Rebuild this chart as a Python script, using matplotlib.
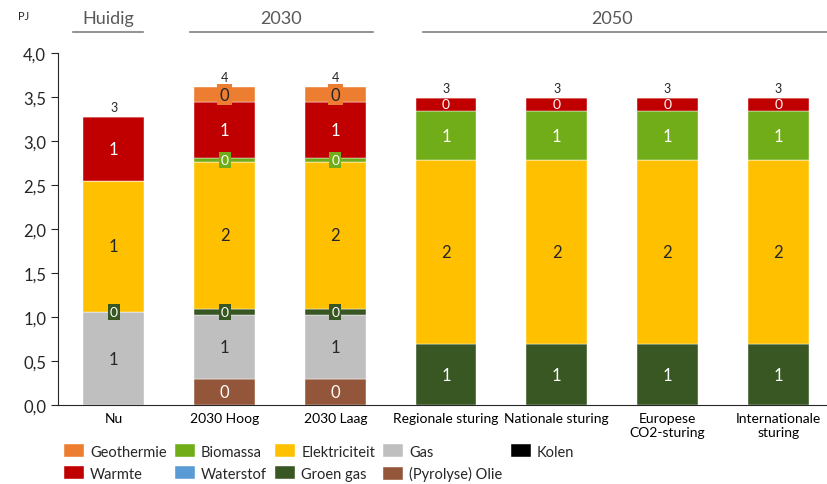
import matplotlib
matplotlib.use('Agg')
import matplotlib.pyplot as plt
import matplotlib.transforms as mtransforms
import numpy as np

plt.rcParams['font.family'] = ['Lato', 'DejaVu Sans']

# categories (bars)
categories = ['Nu', '2030 Hoog', '2030 Laag', 'Regionale sturing', 'Nationale sturing',
              'Europese\nCO2-sturing', 'Internationale\nsturing']

# series values in PJ, stacked from bottom to top
kolen         = [0.0,   0.0,   0.0,   0.0,  0.0,  0.0,  0.0]
olie          = [0.0,   0.295, 0.295, 0.0,  0.0,  0.0,  0.0]
gas           = [1.052, 0.725, 0.725, 0.0,  0.0,  0.0,  0.0]
groen_gas     = [0.005, 0.07,  0.07,  0.69, 0.69, 0.69, 0.69]
elektriciteit = [1.49,  1.675, 1.675, 2.09, 2.09, 2.09, 2.09]
waterstof     = [0.0,   0.0,   0.0,   0.0,  0.0,  0.0,  0.0]
biomassa      = [0.0,   0.042, 0.042, 0.56, 0.56, 0.56, 0.56]
warmte        = [0.72,  0.633, 0.633, 0.15, 0.15, 0.15, 0.15]
geothermie    = [0.0,   0.17,  0.17,  0.0,  0.0,  0.0,  0.0]

series = [
    ('Kolen', kolen, '#000000', 'white'),
    ('(Pyrolyse) Olie', olie, '#93563A', 'white'),
    ('Gas', gas, '#BFBFBF', '#262626'),
    ('Groen gas', groen_gas, '#385723', 'white'),
    ('Elektriciteit', elektriciteit, '#FFC000', '#262626'),
    ('Waterstof', waterstof, '#5B9BD5', 'white'),
    ('Biomassa', biomassa, '#70AD18', 'white'),
    ('Warmte', warmte, '#C00000', 'white'),
    ('Geothermie', geothermie, '#ED7D31', '#262626'),
]

legend_order = ['Geothermie', 'Warmte', 'Biomassa', 'Waterstof', 'Elektriciteit',
                'Groen gas', 'Gas', '(Pyrolyse) Olie', 'Kolen']

groups = [('Huidig', -0.37, 0.26, -0.05), ('2030', 0.685, 2.34, 1.51), ('2050', 2.79, 6.5, 4.5)]

fig = plt.figure(figsize=(8.28, 4.85), dpi=100)
ax = fig.add_axes([0.070, 0.163, 0.93, 0.726])

x = np.arange(len(categories))
bottom = np.zeros(len(categories))
handles = {}
for name, vals, color, tcolor in series:
    vals = np.array(vals)
    bars = ax.bar(x, vals, 0.55, bottom=bottom, color=color, label=name,
                  edgecolor='white', linewidth=0.3)
    handles[name] = bars
    for i, v in enumerate(vals):
        if v <= 0:
            continue
        yc = bottom[i] + v / 2
        txt = '%d' % int(v + 0.5)
        if v < 0.12 or name == 'Geothermie':
            fs = 10 if name != 'Geothermie' else 12
            ax.text(x[i], yc, txt, ha='center', va='center', color=tcolor, fontsize=fs,
                    bbox=dict(boxstyle='square,pad=0.15', fc=color, ec='none'))
        else:
            fs = 12 if v > 0.25 else 10
            ax.text(x[i], yc, txt, ha='center', va='center', color=tcolor, fontsize=fs)
    bottom += vals

# totals on top
for i, tot in enumerate(bottom):
    ax.annotate('%d' % int(tot + 0.5), (x[i], tot), xytext=(0, 3), textcoords='offset points',
                ha='center', va='bottom', fontsize=9, color='#262626')

ax.set_ylim(0, 4.0)
ax.set_xlim(-0.505, 6.45)
ax.set_yticks(np.arange(0, 4.01, 0.5))
ax.set_yticklabels([('%.1f' % t).replace('.', ',') for t in np.arange(0, 4.01, 0.5)], fontsize=12)
ax.set_xticks(x)
ax.set_xticklabels(categories, fontsize=10)
ax.tick_params(axis='x', length=0, pad=5)
ax.tick_params(axis='y', length=5, colors='#262626', direction='out')
for s in ['top', 'right']:
    ax.spines[s].set_visible(False)
ax.spines['left'].set_color('#262626')
ax.spines['bottom'].set_color('#262626')

# group headers
trans = mtransforms.blended_transform_factory(ax.transData, ax.transAxes)
for label, x0, x1, xc in groups:
    ax.plot([x0, x1], [1.06, 1.06], transform=trans, color='#808080', lw=1.2, clip_on=False)
    ax.text(xc, 1.075, label, transform=trans, ha='center', va='bottom', fontsize=13,
            color='#595959')

fig.text(0.022, 0.965, 'PJ', fontsize=8, color='#262626', ha='left', va='center')

leg = fig.legend([handles[n] for n in legend_order], legend_order, ncol=5, loc='lower left',
                 bbox_to_anchor=(0.077, 0.006), frameon=False, fontsize=10.5,
                 handlelength=1.4, handleheight=1.0, columnspacing=0.55, handletextpad=0.4,
                 labelspacing=0.5, borderpad=0, borderaxespad=0)
for t in leg.get_texts():
    t.set_color('#262626')

plt.savefig('out.png', dpi=100)
plt.close()
